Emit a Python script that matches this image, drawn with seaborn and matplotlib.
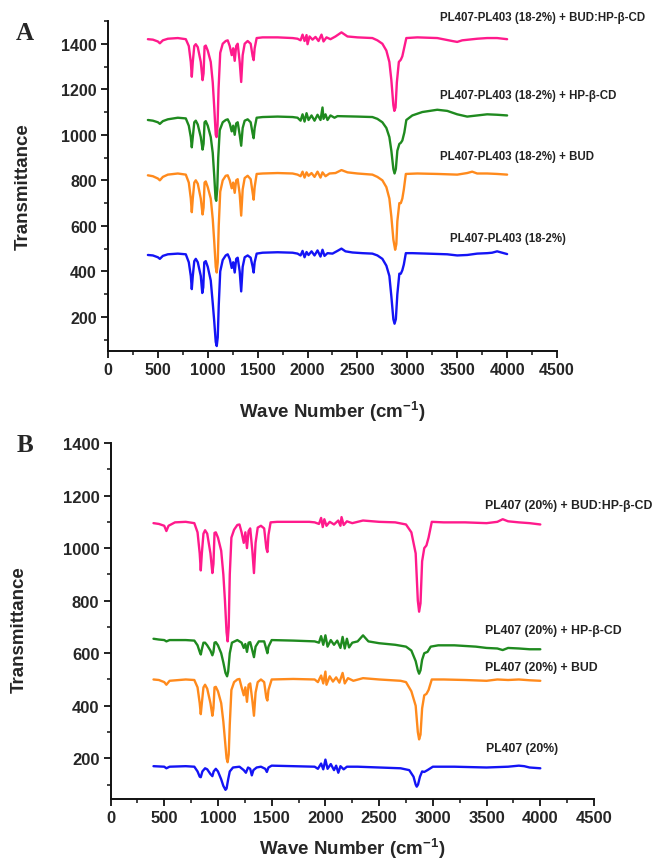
import matplotlib
matplotlib.use("Agg")
import matplotlib.pyplot as plt
from matplotlib.ticker import MultipleLocator
import seaborn as sns
import pandas as pd

# ---- spectra: (wave number, transmittance) ----
# panel A : PL407-PL403 (18-2%)
a_blue = [(400, 472), (450, 470), (500, 462), (520, 455), (550, 468), (600, 475), (700, 478),
          (780, 475), (810, 440), (830, 380), (840, 322), (850, 380), (865, 445), (880, 455),
          (900, 440), (930, 380), (945, 305), (955, 330), (965, 440), (980, 445), (1000, 420),
          (1030, 360), (1050, 260), (1065, 180), (1080, 90), (1090, 72), (1100, 110), (1110, 250),
          (1125, 400), (1150, 450), (1180, 470), (1200, 475), (1220, 455), (1240, 415), (1255, 440),
          (1270, 395), (1285, 455), (1300, 460), (1320, 400), (1335, 312), (1350, 420), (1370, 462),
          (1400, 470), (1430, 460), (1450, 420), (1460, 395), (1470, 440), (1490, 478), (1550, 482),
          (1700, 484), (1850, 482), (1900, 478), (1930, 470), (1950, 490), (1970, 462), (1990, 485),
          (2010, 472), (2040, 488), (2070, 470), (2100, 492), (2130, 465), (2150, 495), (2170, 468),
          (2200, 480), (2250, 478), (2300, 490), (2340, 500), (2380, 488), (2450, 483), (2550, 480),
          (2650, 478), (2700, 470), (2750, 455), (2790, 425), (2820, 380), (2840, 290), (2860, 190),
          (2872, 170), (2885, 190), (2900, 300), (2920, 390), (2935, 390), (2950, 405), (2965, 430),
          (2985, 480), (3050, 480), (3200, 478), (3400, 475), (3500, 470), (3600, 472), (3700, 478),
          (3800, 480), (3850, 482), (3900, 488), (3950, 482), (4000, 476)]

a_orange = [(400, 822), (450, 818), (500, 808), (520, 800), (550, 815), (600, 825), (700, 830),
            (780, 825), (810, 790), (830, 720), (840, 660), (850, 720), (865, 790), (880, 800),
            (900, 785), (930, 720), (948, 650), (958, 680), (968, 790), (980, 795), (1000, 770),
            (1030, 720), (1050, 630), (1065, 530), (1080, 420), (1090, 395), (1100, 440), (1110, 600),
            (1125, 750), (1150, 800), (1180, 820), (1200, 822), (1220, 800), (1240, 765), (1255, 790),
            (1270, 745), (1285, 800), (1300, 805), (1320, 740), (1335, 645), (1350, 760), (1370, 810),
            (1400, 820), (1430, 805), (1450, 745), (1460, 715), (1470, 770), (1490, 828), (1550, 830),
            (1700, 832), (1850, 830), (1900, 825), (1930, 818), (1950, 838), (1970, 812), (1990, 835),
            (2010, 820), (2040, 832), (2070, 815), (2100, 838), (2130, 812), (2150, 835), (2180, 818),
            (2220, 830), (2280, 832), (2340, 845), (2400, 835), (2500, 830), (2650, 825), (2700, 815),
            (2750, 800), (2790, 770), (2820, 720), (2840, 640), (2860, 540), (2878, 495), (2890, 520),
            (2900, 620), (2920, 700), (2935, 700), (2950, 720), (2965, 760), (2985, 828), (3100, 830),
            (3300, 828), (3500, 825), (3600, 832), (3650, 838), (3700, 830), (3800, 830), (3900, 828),
            (4000, 825)]

a_green = [(400, 1065), (450, 1062), (500, 1055), (520, 1048), (550, 1060), (600, 1068), (700, 1075),
           (780, 1072), (810, 1040), (830, 990), (840, 945), (850, 990), (865, 1055), (880, 1062),
           (900, 1045), (930, 990), (948, 935), (958, 960), (968, 1055), (980, 1060), (1000, 1040),
           (1030, 990), (1050, 920), (1065, 820), (1078, 720), (1085, 710), (1095, 760), (1105, 900),
           (1120, 1020), (1150, 1055), (1180, 1065), (1200, 1068), (1220, 1050), (1240, 1015),
           (1255, 1040), (1270, 1000), (1285, 1050), (1300, 1055), (1320, 1000), (1335, 952),
           (1350, 1030), (1370, 1062), (1400, 1068), (1430, 1055), (1450, 1005), (1460, 985),
           (1470, 1030), (1490, 1075), (1550, 1078), (1700, 1080), (1850, 1078), (1900, 1075),
           (1930, 1062), (1950, 1090), (1970, 1058), (1990, 1095), (2010, 1065), (2040, 1085),
           (2070, 1062), (2100, 1088), (2130, 1065), (2150, 1120), (2160, 1070), (2180, 1090),
           (2200, 1065), (2230, 1085), (2270, 1075), (2300, 1082), (2500, 1080), (2650, 1078),
           (2700, 1070), (2750, 1055), (2790, 1030), (2820, 990), (2840, 930), (2860, 850), (2872, 830),
           (2885, 850), (2900, 930), (2920, 960), (2935, 965), (2950, 975), (2970, 1010), (2990, 1065),
           (3050, 1085), (3150, 1100), (3300, 1110), (3400, 1105), (3500, 1090), (3600, 1080),
           (3700, 1085), (3800, 1090), (3900, 1088), (4000, 1085)]

a_pink = [(400, 1420), (450, 1418), (500, 1410), (520, 1402), (550, 1415), (600, 1422), (700, 1425),
          (780, 1420), (810, 1390), (830, 1320), (840, 1255), (850, 1320), (865, 1390), (880, 1398),
          (900, 1385), (930, 1320), (948, 1240), (958, 1270), (968, 1388), (980, 1392), (1000, 1370),
          (1030, 1320), (1050, 1230), (1065, 1120), (1080, 1000), (1088, 990), (1098, 1040),
          (1108, 1200), (1125, 1360), (1150, 1400), (1180, 1412), (1200, 1415), (1220, 1390),
          (1240, 1350), (1255, 1380), (1270, 1325), (1285, 1390), (1300, 1400), (1320, 1320),
          (1335, 1232), (1350, 1350), (1370, 1400), (1400, 1412), (1430, 1400), (1450, 1345),
          (1460, 1328), (1470, 1380), (1490, 1425), (1550, 1428), (1700, 1428), (1850, 1425),
          (1900, 1422), (1930, 1415), (1950, 1440), (1970, 1412), (1990, 1438), (2000, 1398),
          (2020, 1432), (2050, 1418), (2080, 1430), (2110, 1412), (2140, 1440), (2160, 1410),
          (2190, 1428), (2230, 1420), (2280, 1432), (2340, 1450), (2400, 1432), (2500, 1428),
          (2650, 1425), (2700, 1415), (2750, 1400), (2790, 1370), (2820, 1320), (2840, 1240),
          (2860, 1130), (2870, 1105), (2882, 1120), (2895, 1230), (2915, 1320), (2935, 1330),
          (2950, 1345), (2970, 1385), (2990, 1425), (3100, 1428), (3300, 1425), (3450, 1412),
          (3500, 1408), (3550, 1415), (3700, 1422), (3800, 1425), (3900, 1425), (4000, 1420)]

# panel B : PL407 (20%)
b_blue = [(400, 170), (500, 168), (520, 162), (550, 168), (700, 170), (780, 168), (810, 150),
          (830, 130), (840, 128), (855, 150), (880, 162), (900, 158), (930, 140), (948, 132),
          (960, 150), (980, 160), (1000, 150), (1030, 120), (1050, 95), (1070, 80), (1080, 85),
          (1095, 120), (1110, 150), (1140, 165), (1200, 168), (1240, 155), (1260, 145), (1280, 165),
          (1300, 160), (1315, 135), (1330, 155), (1360, 165), (1400, 168), (1440, 160), (1455, 148),
          (1470, 165), (1500, 172), (1700, 170), (1900, 168), (1930, 160), (1960, 180), (1980, 158),
          (2000, 195), (2020, 160), (2050, 178), (2080, 155), (2100, 172), (2120, 145), (2140, 170),
          (2170, 158), (2200, 168), (2300, 168), (2500, 165), (2700, 162), (2780, 155), (2820, 130),
          (2840, 100), (2850, 92), (2862, 100), (2880, 130), (2900, 150), (2920, 148), (2950, 155),
          (3000, 168), (3200, 168), (3500, 165), (3700, 168), (3800, 172), (3850, 170), (3900, 165),
          (4000, 162)]

b_orange = [(400, 500), (450, 498), (500, 490), (520, 480), (550, 495), (700, 500), (780, 498),
            (810, 470), (830, 410), (840, 368), (850, 410), (865, 470), (880, 480), (900, 465),
            (930, 410), (948, 362), (958, 390), (968, 470), (980, 472), (1000, 455), (1030, 410),
            (1050, 340), (1065, 270), (1080, 200), (1090, 185), (1100, 215), (1110, 330), (1125, 460),
            (1150, 490), (1180, 500), (1200, 502), (1220, 470), (1240, 440), (1255, 470), (1270, 415),
            (1285, 480), (1300, 485), (1320, 420), (1335, 362), (1350, 450), (1370, 490), (1400, 500),
            (1430, 490), (1450, 430), (1460, 420), (1470, 460), (1500, 500), (1700, 502), (1900, 500),
            (1930, 490), (1960, 515), (1980, 485), (2000, 530), (2010, 480), (2040, 512), (2070, 492),
            (2100, 508), (2130, 488), (2160, 525), (2180, 485), (2210, 505), (2260, 495), (2350, 505),
            (2500, 500), (2700, 495), (2750, 490), (2800, 455), (2840, 400), (2860, 300), (2872, 272),
            (2885, 290), (2900, 390), (2920, 440), (2940, 445), (2960, 460), (2990, 500), (3100, 500),
            (3300, 498), (3500, 495), (3600, 500), (3700, 498), (3800, 500), (3900, 497), (4000, 495)]

b_green = [(400, 655), (450, 652), (500, 650), (520, 645), (550, 650), (700, 650), (780, 648),
           (810, 630), (830, 605), (840, 595), (850, 615), (865, 640), (880, 640), (900, 630),
           (930, 610), (948, 592), (958, 605), (968, 640), (980, 642), (1000, 630), (1030, 600),
           (1050, 565), (1070, 525), (1085, 512), (1095, 530), (1110, 600), (1130, 640), (1180, 650),
           (1220, 640), (1240, 620), (1255, 635), (1270, 605), (1285, 640), (1300, 642), (1320, 610),
           (1335, 585), (1350, 625), (1380, 645), (1430, 645), (1450, 615), (1460, 600), (1470, 625),
           (1500, 650), (1700, 648), (1900, 645), (1940, 640), (1960, 665), (1980, 632), (2000, 668),
           (2020, 625), (2050, 650), (2080, 632), (2110, 648), (2140, 620), (2160, 662), (2180, 618),
           (2200, 655), (2220, 622), (2250, 640), (2300, 645), (2350, 668), (2400, 645), (2500, 638),
           (2650, 632), (2750, 625), (2800, 610), (2840, 570), (2860, 535), (2872, 522), (2885, 535),
           (2900, 575), (2920, 600), (2950, 605), (2980, 625), (3050, 630), (3200, 630), (3400, 625),
           (3500, 620), (3600, 618), (3650, 612), (3700, 620), (3800, 618), (3900, 615), (4000, 615)]

b_pink = [(400, 1095), (450, 1092), (500, 1085), (520, 1065), (540, 1085), (600, 1098), (700, 1100),
          (780, 1095), (810, 1060), (830, 980), (840, 915), (850, 980), (865, 1055), (880, 1068),
          (900, 1055), (930, 980), (948, 905), (958, 940), (968, 1058), (980, 1060), (1000, 1040),
          (1030, 990), (1050, 900), (1065, 800), (1080, 680), (1090, 645), (1100, 700), (1110, 900),
          (1125, 1040), (1150, 1070), (1180, 1088), (1200, 1090), (1220, 1060), (1240, 1020),
          (1255, 1060), (1270, 1000), (1285, 1065), (1300, 1075), (1320, 990), (1335, 905),
          (1350, 1020), (1370, 1078), (1400, 1085), (1430, 1075), (1450, 1000), (1460, 985),
          (1470, 1050), (1490, 1098), (1550, 1100), (1700, 1100), (1850, 1100), (1900, 1098),
          (1940, 1092), (1960, 1115), (1975, 1080), (1990, 1110), (2010, 1085), (2040, 1100),
          (2080, 1090), (2120, 1105), (2140, 1085), (2150, 1118), (2170, 1088), (2200, 1102),
          (2250, 1095), (2350, 1105), (2500, 1100), (2650, 1098), (2750, 1090), (2800, 1060),
          (2840, 980), (2860, 800), (2872, 758), (2885, 790), (2900, 950), (2920, 1000), (2940, 1010),
          (2960, 1040), (2990, 1100), (3100, 1098), (3300, 1098), (3500, 1095), (3600, 1100),
          (3650, 1110), (3700, 1102), (3800, 1098), (3900, 1095), (4000, 1090)]

a_labels = ["PL407-PL403 (18-2%)", "PL407-PL403 (18-2%) + BUD",
            "PL407-PL403 (18-2%) + HP-\u03b2-CD", "PL407-PL403 (18-2%) + BUD:HP-\u03b2-CD"]
b_labels = ["PL407 (20%)", "PL407 (20%) + BUD",
            "PL407 (20%) + HP-\u03b2-CD", "PL407 (20%) + BUD:HP-\u03b2-CD"]
colors = ["#1414f5", "#ff8a1c", "#1f8a1f", "#ff1a8c"]

sns.set_style("ticks")
plt.rcParams["font.family"] = ["Liberation Sans", "DejaVu Sans"]
plt.rcParams["font.weight"] = "bold"
plt.rcParams["mathtext.fontset"] = "custom"
plt.rcParams["mathtext.rm"] = "Liberation Sans:bold"
plt.rcParams["mathtext.bf"] = "Liberation Sans:bold"
plt.rcParams["mathtext.default"] = "bf"

fig = plt.figure(figsize=(6.52, 8.62), dpi=100)
ax_a = fig.add_axes([0.1656, 0.5916, 0.6887, 0.3829])
ax_b = fig.add_axes([0.1695, 0.0719, 0.7416, 0.4130])


def draw_panel(ax, spectra, labels, label_pos, ylim, fs, tick_fs, lab_fs):
    for spec, col in zip(spectra, colors):
        df = pd.DataFrame(spec, columns=["wn", "t"])
        sns.lineplot(data=df, x="wn", y="t", ax=ax, color=col, lw=1.7,
                     sort=False, estimator=None)
    for txt, (x, y) in zip(labels, label_pos):
        ax.text(x, y, txt, fontsize=fs, fontweight="bold",
                ha="left", va="center", color="#222222", clip_on=False)
    ax.set_xlim(0, 4500)
    ax.set_ylim(*ylim)
    ax.set_yticks(range(200, 1401, 200))
    ax.xaxis.set_major_locator(MultipleLocator(500))
    ax.xaxis.set_minor_locator(MultipleLocator(250))
    ax.yaxis.set_minor_locator(MultipleLocator(100))
    sns.despine(ax=ax)
    for s in ["left", "bottom"]:
        ax.spines[s].set_linewidth(1.4)
        ax.spines[s].set_color("#111111")
    ax.tick_params(which="major", length=5, width=1.3, labelsize=tick_fs, pad=3, color="#111111")
    ax.tick_params(which="minor", length=3, width=1.1, color="#111111")
    for lab in ax.get_xticklabels() + ax.get_yticklabels():
        lab.set_fontweight("bold")
    ax.set_xlabel(r"Wave Number (cm$^{-1}$)", fontsize=lab_fs, fontweight="bold")
    ax.set_ylabel("Transmittance", fontsize=lab_fs, fontweight="bold")


draw_panel(ax_a, [a_blue, a_orange, a_green, a_pink], a_labels,
           [(3427, 547), (3327, 907), (3327, 1176), (3327, 1519)], (50, 1500), 8.3, 11.5, 13.5)
ax_a.yaxis.set_label_coords(-0.169, 0.5)
ax_a.xaxis.set_label_coords(0.5, -0.145)

draw_panel(ax_b, [b_blue, b_orange, b_green, b_pink], b_labels,
           [(3495, 239), (3486, 548), (3486, 688), (3486, 1164)], (45, 1400), 8.8, 12, 13.5)
ax_b.yaxis.set_label_coords(-0.171, 0.478)
ax_b.xaxis.set_label_coords(0.5, -0.104)

fig.text(25 / 652, 1 - 33 / 862, "A", family=["Liberation Serif", "DejaVu Serif"],
         fontsize=18, fontweight="bold", ha="center", va="center")
fig.text(25 / 652, 1 - 445 / 862, "B", family=["Liberation Serif", "DejaVu Serif"],
         fontsize=18, fontweight="bold", ha="center", va="center")

fig.savefig("out.png", dpi=100)
